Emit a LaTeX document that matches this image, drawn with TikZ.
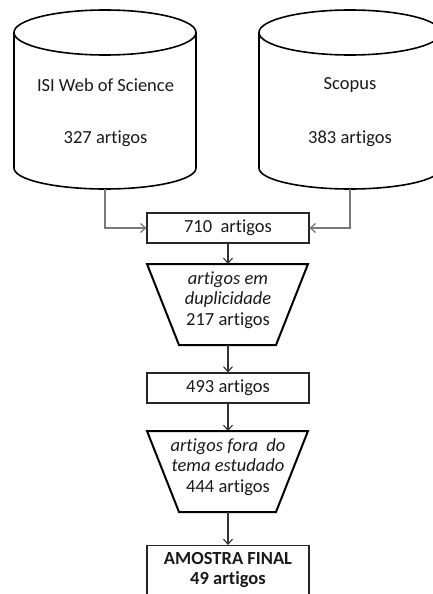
\documentclass[tikz,border=0pt]{standalone}
\usepackage{fontspec}
\setmainfont{Carlito}[Ligatures=NoCommon]
\usetikzlibrary{arrows.meta}
\definecolor{txt}{HTML}{1A1A1A}
\definecolor{gline}{HTML}{7A7A7A}
\begin{document}
\begin{tikzpicture}[x=1pt,y=1pt,
  every node/.style={font=\fontsize{18.5}{20.5}\selectfont, text=txt, align=center},
  cyl/.style={draw=black, line width=1.6pt},
  boxnode/.style={draw=black!85, line width=1.1pt, minimum width=162pt, minimum height=30pt, inner sep=0pt},
  trap/.style={draw=black, line width=2pt, line join=miter},
  garrow/.style={draw=gline, line width=1.3pt, -{Straight Barb[length=5pt,width=9pt]}},
  darrow/.style={draw=black!80, line width=1.1pt, -{Straight Barb[length=5pt,width=9pt]}}]
\useasboundingbox (0,0) rectangle (433,-594);
\clip (0,0) rectangle (433,-594);
% cylinder 1
\draw[cyl] (105,-32.5) ellipse [x radius=91pt, y radius=22.5pt];
\draw[cyl] (14,-32.5) -- (14,-168) arc[start angle=180, end angle=360, x radius=91pt, y radius=21pt] -- (196,-32.5);
\node (isi) at (105.5,-85) {ISI Web of Science};
\node (isin) at (105.5,-139) {327 artigos};
\coordinate (c1b) at (105,-189);
% cylinder 2
\draw[cyl] (350,-32.5) ellipse [x radius=91pt, y radius=22.5pt];
\draw[cyl] (259,-32.5) -- (259,-168) arc[start angle=180, end angle=360, x radius=91pt, y radius=21pt] -- (441,-32.5);
\node (sco) at (350,-85) {Scopus};
\node (scon) at (350,-139) {383 artigos};
\coordinate (c2b) at (350,-189);
% box 710
\node[boxnode] (b710) at (228,-228) {710\ \ artigos};
\draw[garrow] (c1b) |- (b710.west);
\draw[garrow] (c2b) |- (b710.east);
% trapezoid 1
\draw[trap] (147,-264) -- (308,-264) -- (276,-345) -- (179,-345) -- cycle;
\coordinate (t1top) at (228,-264);
\coordinate (t1bot) at (228,-345);
\node (t1) at (228,-300) {\itshape artigos em\\\itshape duplicidade\\217 artigos};
\draw[darrow] (b710.south) -- (t1top);
% box 493
\node[boxnode] (b493) at (228,-388) {493 artigos};
\draw[darrow] (t1bot) -- (b493.north);
% trapezoid 2
\draw[trap] (147,-431) -- (308,-431) -- (276,-512) -- (179,-512) -- cycle;
\coordinate (t2top) at (228,-431);
\coordinate (t2bot) at (228,-512);
\node (t2) at (228,-467) {\itshape artigos fora\ \ do\\\itshape tema estudado\\444 artigos};
\draw[darrow] (b493.south) -- (t2top);
% final box
\node[boxnode, minimum height=70pt, anchor=north] (fin) at (228,-545) {};
\node (fint) at (228,-570) {\bfseries AMOSTRA FINAL\\\bfseries 49 artigos};
\draw[darrow] (t2bot) -- (fin.north);
\end{tikzpicture}
\end{document}
